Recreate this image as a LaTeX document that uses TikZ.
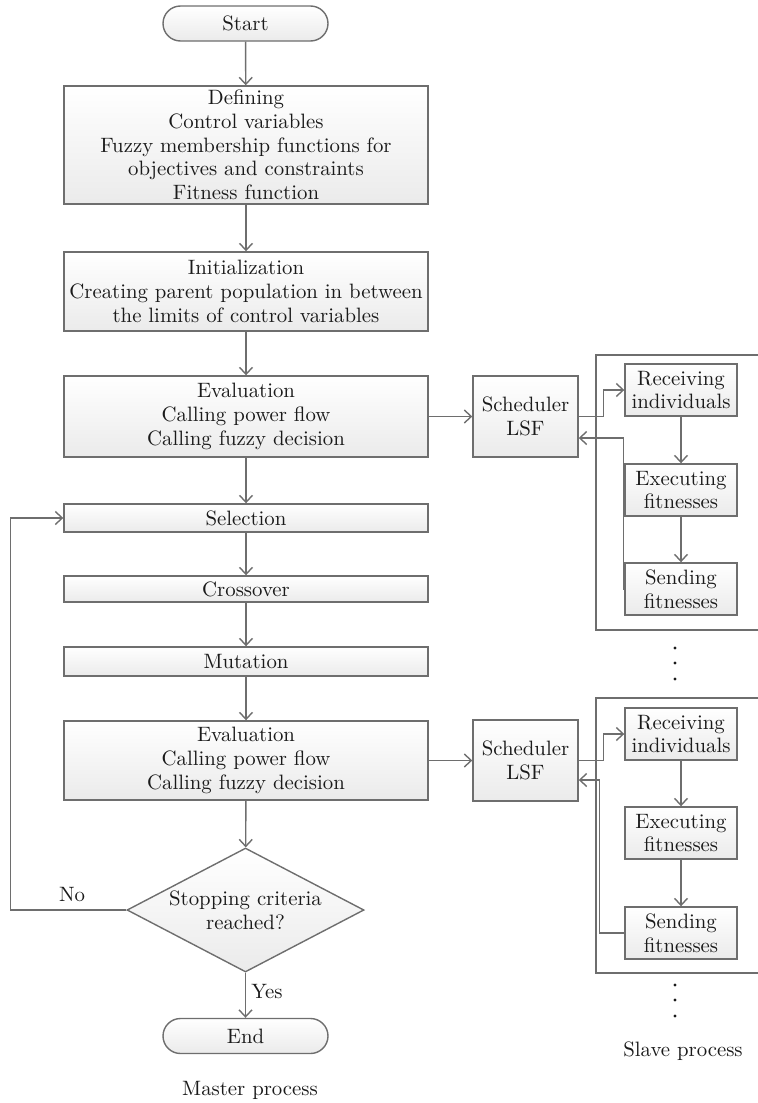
\documentclass[tikz,border=0pt]{standalone}
\usepackage{tikz}
\usetikzlibrary{arrows.meta, shapes.geometric}

\definecolor{edge}{HTML}{6E6E6E}
\definecolor{ink}{HTML}{1A1A1A}

\begin{document}
\begin{tikzpicture}[x=0.5pt, y=-0.5pt,
  every node/.style={text=ink, font=\fontsize{10.4}{11.85}\selectfont, align=center},
  shaded/.style={draw=edge, line width=0.7pt, top color=white, bottom color=gray!16},
  box/.style={shaded, minimum width=182pt, inner sep=0pt},
  sched/.style={shaded, minimum width=52.5pt, minimum height=40.5pt, inner sep=0pt},
  slave/.style={shaded, minimum width=56pt, minimum height=26pt, inner sep=0pt},
  term/.style={shaded, rounded corners=8.75pt, minimum width=82.5pt, minimum height=17.5pt, inner sep=0pt},
  decide/.style={shaded, diamond, aspect=1.9, minimum width=118.5pt, minimum height=62pt, inner sep=0pt},
  link/.style={draw=edge, line width=0.7pt, -{Straight Barb[length=3.5pt,width=6.5pt]}},
  frame/.style={draw=edge, line width=0.7pt}]
\useasboundingbox (0,0) rectangle (758,1103);
%
\node[term](start) at (245.5,23.5) {Start};
%
\node[box, minimum height=59pt](def) at (246,145) {Defining\\Control variables\\Fuzzy membership functions for\\objectives and constraints\\Fitness function};
\draw[link](start) -- (def);
%
\node[box, minimum height=39.5pt](init) at (246,291.5) {Initialization\\Creating parent population in between\\the limits of control variables};
\draw[link](def) -- (init);
%
\node[box, minimum height=40.5pt](eval1) at (246,416.5) {Evaluation\\Calling power flow\\Calling fuzzy decision};
\draw[link](init) -- (eval1);
%
\node[box, minimum height=14pt](sel) at (246,518) {Selection};
\draw[link](eval1) -- (sel);
%
\node[box, minimum height=13pt](cross) at (246,589) {Crossover};
\draw[link](sel) -- (cross);
%
\node[box, minimum height=14.5pt](mut) at (246,661.5) {Mutation};
\draw[link](cross) -- (mut);
%
\node[box, minimum height=39.5pt](eval2) at (246,760.5) {Evaluation\\Calling power flow\\Calling fuzzy decision};
\draw[link](mut) -- (eval2);
%
\node[decide](stop) at (245.5,910) {Stopping criteria\\reached?};
\draw[link](eval2) -- (stop);
%
\node[term](fin) at (245.5,1036) {End};
\node(yes) at (267,991) {Yes};
\draw[link](stop) -- (fin);
%
\node(no) at (72,895) {No};
\draw[link](stop.west) -- ++(-116,0) |- (sel.west);
%
\node(master) at (250,1090) {Master process};
%
% first slave group
\node[sched](sch1) at (525.5,416.5) {Scheduler\\LSF};
\draw[link](eval1) -- (sch1);
%
\draw[frame] (758,355) -- (596,355) -- (596,630) -- (758,630);
\node[slave](rec1) at (681,390) {Receiving\\individuals};
\node[slave](exe1) at (681,490) {Executing\\fitnesses};
\node[slave](snd1) at (681,589) {Sending\\fitnesses};
\draw[link](sch1.east) -- ++(25,0) |- (rec1.west);
\draw[link](rec1) -- (exe1);
\draw[link](exe1) -- (snd1);
\draw[link](snd1.west) -- ++(-1,0) |- ([yshift=-10.75pt]sch1.east);
%
\foreach \y in {648,663,679}
  \fill[ink] (675,\y) circle (0.8pt);
%
% second slave group
\node[sched](sch2) at (525.5,760.5) {Scheduler\\LSF};
\draw[link](eval2) -- (sch2);
%
\draw[frame] (758,698) -- (596,698) -- (596,973) -- (758,973);
\node[slave](rec2) at (681,734) {Receiving\\individuals};
\node[slave](exe2) at (681,833) {Executing\\fitnesses};
\node[slave](snd2) at (681,933) {Sending\\fitnesses};
\draw[link](sch2.east) -- ++(25,0) |- (rec2.west);
\draw[link](rec2) -- (exe2);
\draw[link](exe2) -- (snd2);
\draw[link](snd2.west) -- ++(-25,0) |- ([yshift=-9.75pt]sch2.east);
%
\foreach \y in {985,1000,1016}
  \fill[ink] (675,\y) circle (0.8pt);
%
\node(slaveproc) at (683,1051) {Slave process};
\end{tikzpicture}
\end{document}
